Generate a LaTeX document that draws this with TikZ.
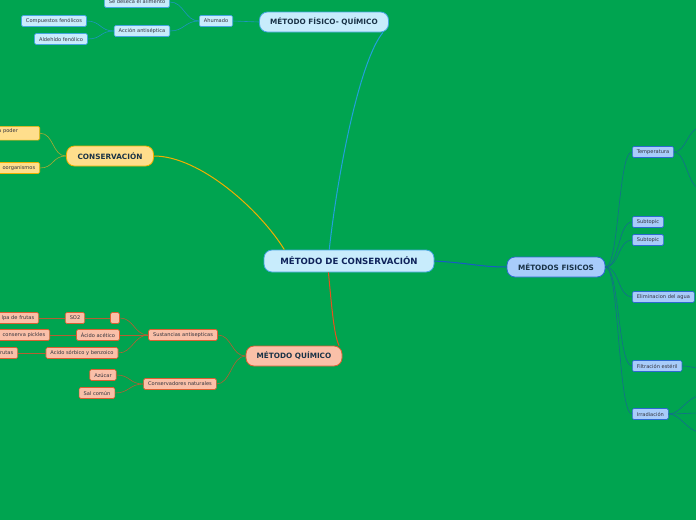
\documentclass[tikz,border=0pt]{standalone}
\usepackage{fontspec}
\setmainfont{DejaVu Sans}
\usetikzlibrary{positioning}
\definecolor{Fondo}{RGB}{0,164,80}
\definecolor{Tinta}{RGB}{50,50,60}
\definecolor{TintaTema}{RGB}{25,50,70}
\definecolor{Marino}{RGB}{15,35,90}
\definecolor{AzulRelleno}{RGB}{200,236,252}
\definecolor{AzulBorde}{RGB}{70,165,225}
\definecolor{AzulLinea}{RGB}{35,160,220}
\definecolor{AzulHijo}{RGB}{30,150,190}
\definecolor{AmarRelleno}{RGB}{255,222,140}
\definecolor{AmarBorde}{RGB}{240,175,0}
\definecolor{AmarHijo}{RGB}{170,170,50}
\definecolor{SalmRelleno}{RGB}{250,192,168}
\definecolor{SalmBorde}{RGB}{220,95,50}
\definecolor{SalmLinea}{RGB}{232,80,30}
\definecolor{SalmHijo}{RGB}{180,95,50}
\definecolor{CelRelleno}{RGB}{168,204,250}
\definecolor{CelBorde}{RGB}{45,105,210}
\definecolor{CelLinea}{RGB}{25,90,200}
\definecolor{CelHijo}{RGB}{20,110,140}

\begin{document}
\begin{tikzpicture}[x=1pt, y=-1pt,
    every node/.style={font=\fontsize{5.1}{6}\selectfont, text=Tinta, inner xsep=4.5pt, inner ysep=2pt,
        minimum height=11pt, rounded corners=1.5pt, line width=0.6pt},
    tema/.style={font=\fontsize{7.3}{9}\selectfont\bfseries, text=TintaTema, inner xsep=4pt,
        minimum height=20pt, rounded corners=8pt, line width=0.8pt},
    azul/.style={fill=AzulRelleno, draw=AzulBorde},
    amarillo/.style={fill=AmarRelleno, draw=AmarBorde},
    salmon/.style={fill=SalmRelleno, draw=SalmBorde},
    celeste/.style={fill=CelRelleno, draw=CelBorde},
    corte/.style={anchor=east, text width=70pt, align=right},
    rama/.style={line width=1pt},
    hijo/.style={line width=0.6pt}
]
% Fondo
\fill[Fondo] (0,0) rectangle (696,520);
\useasboundingbox (0,0) rectangle (696,520);
\clip (0,0) rectangle (696,520);

% Temas principales
\node[tema, azul, text=Marino, font=\fontsize{8.6}{10}\selectfont\bfseries,
    minimum width=170pt, minimum height=22pt] (raiz) at (349,261) {MÉTODO DE CONSERVACIÓN};
\node[tema, azul, minimum width=129pt] (fq) at (324,22) {MÉTODO FÍSICO- QUÍMICO};
\node[tema, amarillo, minimum width=87pt] (cons) at (110,156) {CONSERVACIÓN};
\node[tema, salmon, minimum width=96pt] (quim) at (294,356) {MÉTODO QUÍMICO};
\node[tema, celeste, minimum width=98pt] (fis) at (556,267) {MÉTODOS FISICOS};

% Método físico-químico
\foreach \n/\x/\y/\t in {ahu/216/21/Ahumado, sed/137/2/Se deseca el alimento,
    acc/142/31/Acción antiséptica, com/54/21/Compuestos fenólicos, ald/61/39/Aldehído fenólico}
    \node[azul] (\n) at (\x,\y) {\t};

% Conservación
\node[amarillo, anchor=north east, text width=37pt, align=left] (pod) at (40,126) {a poder\\ \mbox{}};
\node[amarillo, corte] (org) at (40,168) {oorganismos};

% Método químico
\foreach \n/\x/\y/\t in {sus/183/335/Sustancias antisepticas, nat/180/384/Conservadores naturales,
    vac/115/318/{}, ace/98/335/Ácido acético, sor/82/353/Acido sórbico y benzoico,
    so/75/318/SO2, azu/103/375/Azúcar, sal/97/393/Sal común}
    \node[salmon] (\n) at (\x,\y) {\t};
\node[salmon, corte] (pul) at (39,318) {lpa de frutas};
\node[salmon, corte] (pic) at (50,335) {conserva pickles};
\node[salmon, corte] (fru) at (18,353) {frutas};

% Métodos físicos
\foreach \n/\y/\t in {tem/152/Temperatura, sub1/222/Subtopic, sub2/240/Subtopic,
    eli/297/Eliminacion del agua, fil/366/Filtración estéril, irr/414/Irradiación}
    \node[celeste, anchor=west] (\n) at (632,\y) {\t};
\coordinate (t1) at (700,128);
\coordinate (t2) at (700,188);
\coordinate (f1) at (700,368);
\coordinate (i1) at (700,396);
\coordinate (i2) at (700,413);
\coordinate (i3) at (700,432);

% Ramas principales
\draw[rama, AzulLinea] (raiz.150) .. controls (338,170) and (360,60) .. (fq.-10);
\draw[rama, AmarBorde] (cons.east) .. controls (200,156) and (260,210) .. (raiz.170);
\draw[rama, SalmLinea] (raiz.209) .. controls (332,310) and (334,335) .. (quim.13);
\draw[rama, CelLinea] (raiz.east) .. controls (470,263) and (480,267) .. (fis.west);

% Ramas secundarias
\draw[hijo, AzulHijo] (fq.west) -- (ahu.east);
\foreach \b in {sed,acc}
    \draw[hijo, AzulHijo] (ahu.west) .. controls +(-14,0) and +(14,0) .. (\b.east);
\foreach \b in {com,ald}
    \draw[hijo, AzulHijo] (acc.west) .. controls +(-14,0) and +(14,0) .. (\b.east);
\foreach \b in {pod,org}
    \draw[hijo, AmarHijo] (cons.west) .. controls +(-14,0) and +(14,0) .. (\b.east);
\foreach \b in {sus,nat}
    \draw[hijo, SalmHijo] (quim.west) .. controls +(-14,0) and +(14,0) .. (\b.east);
\foreach \b in {vac,ace,sor}
    \draw[hijo, SalmHijo] (sus.west) .. controls +(-14,0) and +(14,0) .. (\b.east);
\foreach \b in {azu,sal}
    \draw[hijo, SalmHijo] (nat.west) .. controls +(-14,0) and +(14,0) .. (\b.east);
\foreach \a/\b in {vac/so, so/pul, ace/pic, sor/fru}
    \draw[hijo, SalmHijo] (\a.west) -- (\b.east);
\foreach \b in {tem,sub1,sub2,eli,fil,irr}
    \draw[hijo, CelHijo] (fis.east) .. controls +(14,0) and +(-14,0) .. (\b.west);
\foreach \b in {t1,t2}
    \draw[hijo, CelHijo] (tem.east) .. controls +(12,0) and +(-12,0) .. (\b);
\draw[hijo, CelHijo] (fil.east) .. controls +(8,0) and +(-8,0) .. (f1);
\foreach \b in {i1,i2,i3}
    \draw[hijo, CelHijo] (irr.east) .. controls +(12,0) and +(-12,0) .. (\b);
\end{tikzpicture}
\end{document}
